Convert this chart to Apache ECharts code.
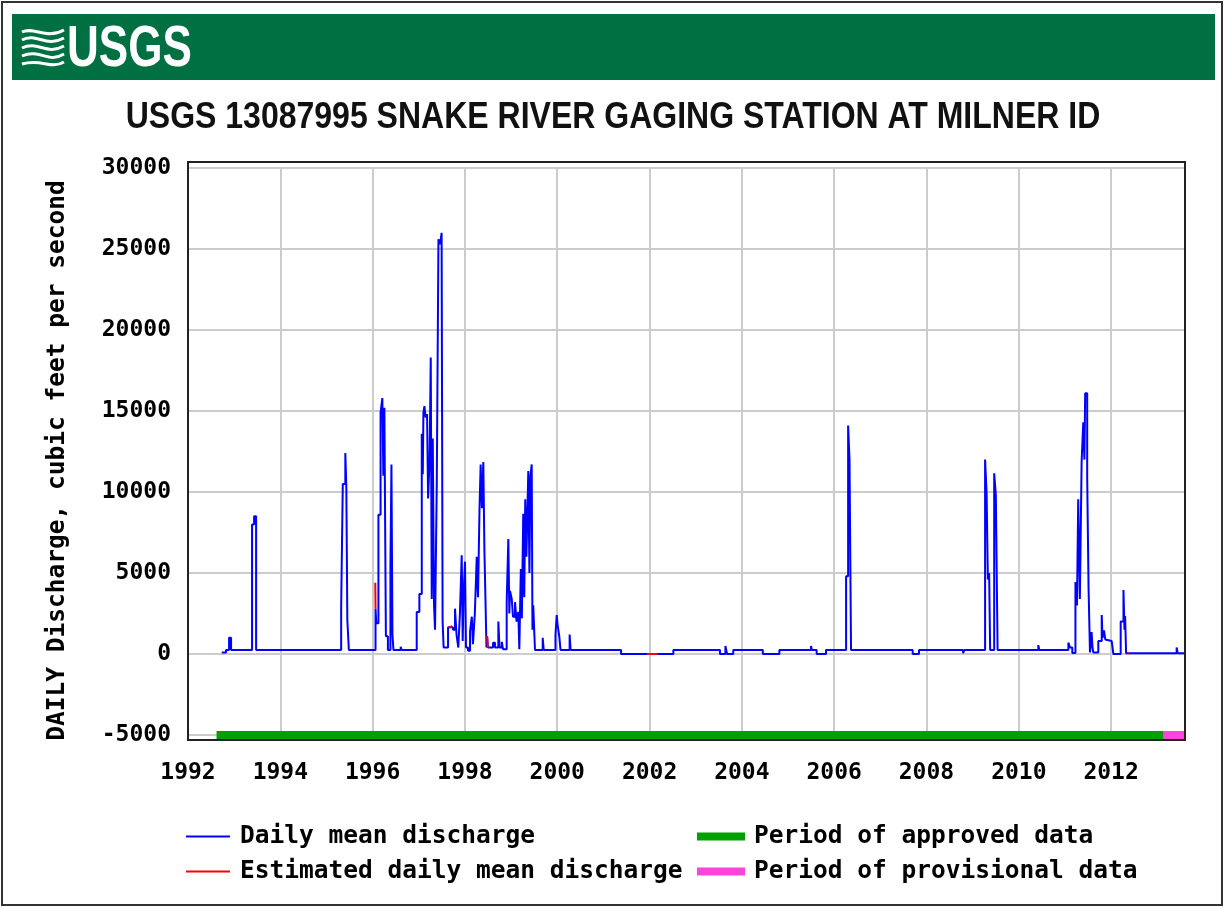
<!DOCTYPE html>
<html>
<head>
<meta charset="utf-8">
<title>USGS 13087995 Snake River at Milner</title>
<script src="https://cdn.jsdelivr.net/npm/echarts@6/dist/echarts.min.js"></script>
<style>
  html, body { margin: 0; padding: 0; background: #fff; }
  #chart { width: 1225px; height: 907px; }
</style>
</head>
<body>
<div id="chart"></div>
<script>
// daily mean discharge (value holds until the next date)
const flowDates = [
  '1992-09-24', '1992-10-28', '1992-11-21', '1992-12-07',
  '1993-05-22', '1993-06-07', '1993-06-23',
  '1995-04-27', '1995-05-10', '1995-05-30', '1995-06-07', '1995-06-15', '1995-06-27',
  '1996-01-24', '1996-01-30', '1996-02-16', '1996-03-04', '1996-03-18', '1996-03-26', '1996-04-03',
  '1996-04-15', '1996-05-01', '1996-05-21', '1996-05-29', '1996-06-06', '1996-06-14', '1996-08-10', '1996-08-18',
  '1996-12-15', '1997-01-05', '1997-01-24', '1997-02-01', '1997-02-06', '1997-02-14', '1997-02-23',
  '1997-03-07', '1997-03-15', '1997-03-27', '1997-04-05', '1997-04-13', '1997-04-21', '1997-05-01',
  '1997-05-09', '1997-05-23', '1997-06-05', '1997-06-18', '1997-06-30', '1997-07-08', '1997-07-16',
  '1997-08-20', '1997-09-28', '1997-10-14', '1997-10-26', '1997-11-09', '1997-11-22', '1997-12-06',
  '1997-12-14', '1997-12-20', '1998-01-01', '1998-01-09', '1998-01-25', '1998-02-10', '1998-02-24',
  '1998-03-05', '1998-03-20', '1998-04-04', '1998-04-14', '1998-04-26', '1998-05-05', '1998-05-15',
  '1998-05-26', '1998-06-04', '1998-06-12', '1998-06-20', '1998-06-25', '1998-07-01', '1998-08-11',
  '1998-08-27', '1998-09-22', '1998-10-01', '1998-10-19', '1998-10-29', '1998-11-27', '1998-12-10',
  '1998-12-18', '1998-12-23', '1999-01-06', '1999-01-16', '1999-02-01', '1999-02-13', '1999-02-27',
  '1999-03-07', '1999-03-19', '1999-03-27', '1999-04-07', '1999-04-15', '1999-04-23', '1999-05-02',
  '1999-05-17', '1999-05-26', '1999-06-03', '1999-06-13', '1999-06-19', '1999-06-25', '1999-07-09',
  '1999-09-08', '1999-09-16', '1999-12-18', '1999-12-28', '2000-01-04', '2000-01-17', '2000-01-27',
  '2000-04-08', '2000-04-16', '2001-05-20', '2002-07-08', '2003-07-12', '2003-08-24', '2003-09-06',
  '2003-10-25', '2004-06-15', '2004-10-24', '2005-07-01', '2005-07-09', '2005-08-15', '2005-10-28',
  '2006-04-05', '2006-04-21', '2006-05-02', '2006-05-14', '2007-09-14', '2007-11-03', '2008-10-17',
  '2008-10-29', '2009-04-09', '2009-04-21', '2009-05-01', '2009-05-11', '2009-05-19', '2009-06-20',
  '2009-07-03', '2009-07-17', '2010-06-04', '2010-06-12', '2011-01-28', '2011-02-10', '2011-02-28',
  '2011-03-25', '2011-04-06', '2011-04-16', '2011-04-29', '2011-05-13', '2011-05-26', '2011-06-04',
  '2011-06-10', '2011-06-26', '2011-07-07', '2011-07-18', '2011-07-31', '2011-08-07', '2011-08-13',
  '2011-09-22', '2011-10-19', '2011-10-25', '2011-11-06', '2011-11-16', '2011-11-27', '2012-01-06',
  '2012-01-19', '2012-03-17', '2012-04-08', '2012-04-16', '2012-04-21', '2012-04-29', '2013-06-03',
  '2013-06-11', '2013-08-08'
]
const flowValues = [
  100, 250, 1000, 250,
  8000, 8500, 250,
  2800, 10500, 12400, 10300, 2100, 250,
  2800, 1900, 8600, 14900, 15800, 11000, 15200,
  1100, 250, 5400, 11700, 1200, 250, 450, 250,
  2600, 3700, 13600, 11100, 14900, 15300, 14600,
  14800, 9600, 12000, 18300, 3400, 13300, 3000,
  1500, 10700, 25600, 25300, 26000, 2000, 400,
  1650, 1500, 2800, 1200, 400, 2500, 6100,
  800, 3500, 5700, 400, 200, 1400, 2300,
  600, 2500, 6000, 3500, 9000, 11700, 9000,
  11850, 6300, 3400, 400, 1100, 400, 700,
  400, 2000, 400, 750, 300, 3200, 7100,
  2500, 3900, 3400, 2300, 3200, 2000, 2600,
  300, 5250, 2200, 8650, 3500, 9550, 6000,
  11300, 5000, 11000, 11700, 1500, 3000, 250,
  1000, 250, 1200, 2400, 1800, 1100, 250,
  1200, 250, 0, 250, 0, 500, 0,
  250, 0, 250, 500, 250, 0, 250,
  4800, 14100, 12000, 250, 0, 250, 50,
  250, 12000, 9900, 4600, 5000, 250, 11150,
  9800, 250, 550, 250, 700, 400, 60,
  4450, 3000, 9550, 3400, 11900, 14300, 12000,
  16100, 10900, 4000, 100, 1350, 400, 100,
  800, 2400, 1000, 1450, 900, 800, 750,
  0, 2000, 3950, 1500, 2350, 50, 400,
  50, 50
]

// estimated values (null = gap between estimated stretches)
const estDates = [
  '1996-01-22', '1996-01-24', '1996-01-25',
  '1997-08-24', '1997-09-10', '1997-09-20', '1997-09-21',
  '1998-06-25', '1998-07-01', '1998-07-02',
  '2001-12-13', '2002-03-03', '2002-03-04',
  '2012-05-12', '2012-05-24'
]
const estValues = [
  4400, 2800, null,
  1650, 1750, 1650, null,
  1100, 400, null,
  0, 0, null,
  50, 50
]

// approval status bars, drawn along the bottom of the plot
const approvedDates = ['1992-08-14', '2013-02-15']
const provisionalDates = ['2013-02-15', '2013-08-08']
const periodLevel = -5000

const yMin = -5000
const yMax = 30000
const yStep = 5000
const xStart = new Date(1992, 0, 1).getTime()
const xEnd = new Date(2013, 7, 8).getTime()
const twoYears = 730.5 * 24 * 3600 * 1000

const monoFont = '"DejaVu Sans Mono", "Liberation Mono", monospace'
const legendText = { color: '#000', fontFamily: monoFont, fontWeight: 'bold', fontSize: 24.5, lineHeight: 24 }

const chart = echarts.init(document.getElementById('chart'))

chart.setOption({
  backgroundColor: '#ffffff',
  animation: false,
  grid: {
    left: 188,
    right: 40,
    top: 168,
    bottom: 172
  },
  xAxis: {
    type: 'time',
    min: xStart,
    max: xEnd,
    minInterval: twoYears,
    maxInterval: twoYears,
    axisLine: { show: false },
    axisTick: { show: false },
    splitLine: { show: true, lineStyle: { color: '#cccccc', width: 2 } },
    axisLabel: {
      margin: 27,
      color: '#000',
      fontFamily: monoFont,
      fontWeight: 'bold',
      fontSize: 23,
      formatter: function (v) { return String(new Date(v).getFullYear()) }
    }
  },
  yAxis: {
    type: 'value',
    min: yMin,
    max: yMax,
    interval: yStep,
    name: 'DAILY Discharge, cubic feet per second',
    nameLocation: 'middle',
    nameGap: 118,
    nameTextStyle: {
      color: '#000',
      fontFamily: monoFont,
      fontWeight: 'bold',
      fontSize: 24.5,
      padding: [0, 18, 0, 0]
    },
    axisLine: { show: false },
    axisTick: { show: false },
    splitLine: { lineStyle: { color: '#cccccc', width: 2 } },
    axisLabel: {
      margin: 17,
      color: '#000',
      fontFamily: monoFont,
      fontWeight: 'bold',
      fontSize: 23,
      formatter: function (v) { return String(v) }
    }
  },
  legend: [{
    orient: 'vertical',
    left: 186,
    top: 824,
    padding: 0,
    icon: 'rect',
    itemWidth: 44,
    itemHeight: 2,
    itemGap: 10,
    selectedMode: false,
    data: ['Daily mean discharge', 'Estimated daily mean discharge'],
    textStyle: Object.assign({ padding: [0, 0, 0, 5] }, legendText)
  }, {
    orient: 'vertical',
    left: 697,
    top: 824,
    padding: 0,
    icon: 'rect',
    itemWidth: 48,
    itemHeight: 8,
    itemGap: 10,
    selectedMode: false,
    data: ['Period of approved data', 'Period of provisional data'],
    textStyle: Object.assign({ padding: [0, 0, 0, 4] }, legendText)
  }],
  graphic: [
    { // outer border
      type: 'rect',
      shape: { x: 2, y: 2, width: 1220, height: 903 },
      style: { fill: 'none', stroke: '#333', lineWidth: 2 },
      silent: true
    },
    { // header band
      type: 'rect',
      shape: { x: 12, y: 14, width: 1203, height: 66 },
      style: { fill: '#006f41' },
      silent: true
    },
    { // logo waves
      type: 'group',
      silent: true,
      children: [
        { type: 'bezierCurve', shape: { x1: 22, y1: 32, cpx1: 34, cpy1: 26, cpx2: 46, cpy2: 40, x2: 64, y2: 30 }, style: { stroke: '#fff', lineWidth: 3, fill: 'none' } },
        { type: 'bezierCurve', shape: { x1: 22, y1: 40, cpx1: 36, cpy1: 32, cpx2: 46, cpy2: 48, x2: 64, y2: 38 }, style: { stroke: '#fff', lineWidth: 3, fill: 'none' } },
        { type: 'bezierCurve', shape: { x1: 22, y1: 48, cpx1: 38, cpy1: 40, cpx2: 46, cpy2: 56, x2: 64, y2: 46 }, style: { stroke: '#fff', lineWidth: 3, fill: 'none' } },
        { type: 'bezierCurve', shape: { x1: 22, y1: 56, cpx1: 40, cpy1: 48, cpx2: 48, cpy2: 64, x2: 64, y2: 54 }, style: { stroke: '#fff', lineWidth: 3, fill: 'none' } },
        { type: 'bezierCurve', shape: { x1: 22, y1: 64, cpx1: 42, cpy1: 58, cpx2: 50, cpy2: 70, x2: 64, y2: 62 }, style: { stroke: '#fff', lineWidth: 3, fill: 'none' } }
      ]
    },
    { // logo word
      type: 'text',
      x: 67,
      y: 79,
      scaleX: 0.76,
      silent: true,
      style: {
        text: 'USGS',
        x: 0,
        y: 0,
        font: 'bold 58px "Liberation Sans", Arial, sans-serif',
        fill: '#fff',
        align: 'left',
        verticalAlign: 'bottom',
        textAlign: 'left',
        textVerticalAlign: 'bottom'
      }
    },
    { // chart title
      type: 'text',
      x: 613,
      y: 118,
      scaleX: 0.865,
      silent: true,
      style: {
        text: 'USGS 13087995 SNAKE RIVER GAGING STATION AT MILNER ID',
        x: 0,
        y: 0,
        font: 'bold 37px "Liberation Sans", Arial, sans-serif',
        fill: '#111',
        align: 'center',
        verticalAlign: 'middle',
        textAlign: 'center',
        textVerticalAlign: 'middle'
      }
    },
    { // plot frame
      type: 'rect',
      shape: { x: 188, y: 162, width: 997, height: 578 },
      style: { fill: 'none', stroke: '#222', lineWidth: 2 },
      silent: true,
      z: 10
    }
  ],
  series: [{
    name: 'Daily mean discharge',
    type: 'line',
    step: 'end',
    symbol: 'none',
    color: '#0000ff',
    lineStyle: { color: '#0000ff', width: 2 },
    data: flowDates.map((d, i) => [d, flowValues[i]]),
    z: 3
  }, {
    name: 'Estimated daily mean discharge',
    type: 'line',
    step: 'end',
    symbol: 'none',
    connectNulls: false,
    color: '#ff0000',
    lineStyle: { color: '#ff0000', width: 2 },
    data: estDates.map((d, i) => [d, estValues[i]]),
    z: 4
  }, {
    name: 'Period of approved data',
    type: 'line',
    symbol: 'none',
    color: '#00a000',
    lineStyle: { color: '#00a000', width: 8, cap: 'butt' },
    data: approvedDates.map(d => [d, periodLevel]),
    z: 5
  }, {
    name: 'Period of provisional data',
    type: 'line',
    symbol: 'none',
    color: '#ff44dd',
    lineStyle: { color: '#ff44dd', width: 8, cap: 'butt' },
    data: provisionalDates.map(d => [d, periodLevel]),
    z: 5
  }]
})
</script>
</body>
</html>
